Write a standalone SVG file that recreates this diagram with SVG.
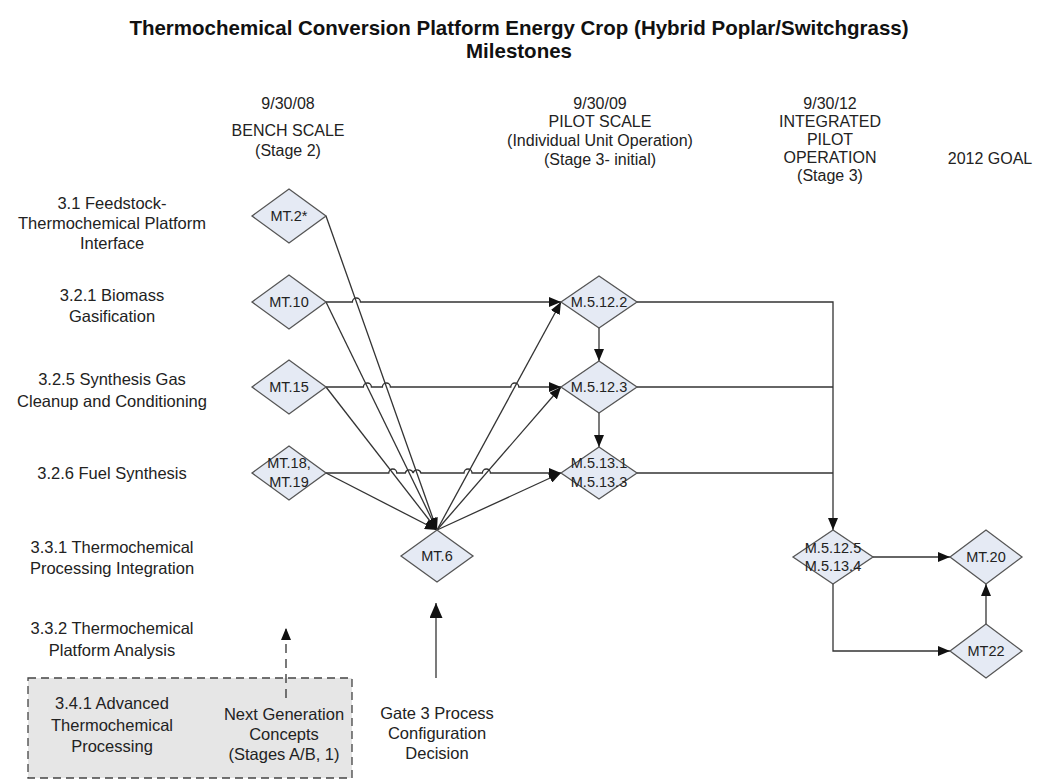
<svg xmlns="http://www.w3.org/2000/svg" width="1039" height="782" viewBox="0 0 1039 782">
<style>
text{font-family:"Liberation Sans",Arial,sans-serif;fill:#222;text-anchor:middle}
.t{font-size:20.5px;font-weight:bold;fill:#111}
.h{font-size:16px}
.l{font-size:16.5px}
.d{font-size:14.5px}
.dm{fill:#E5EAF4;stroke:#555;stroke-width:1.3}
.c{fill:none;stroke:#333;stroke-width:1.3}
</style>
<defs>
<marker id="ah" markerUnits="userSpaceOnUse" markerWidth="12" markerHeight="10" refX="12" refY="5" orient="auto"><path d="M0,0 L12,5 L0,10 z" fill="#111"/></marker>
<marker id="ahb" markerUnits="userSpaceOnUse" markerWidth="15" markerHeight="13" refX="15" refY="6.5" orient="auto"><path d="M0,0 L15,6.5 L0,13 z" fill="#111"/></marker>
</defs>
<rect width="1039" height="782" fill="#fff"/>
<g id="title">
<text class="t" x="519" y="35">Thermochemical Conversion Platform Energy Crop (Hybrid Poplar/Switchgrass)</text>
<text class="t" x="519" y="58">Milestones</text>
</g>
<g id="headers">
<text class="h" x="288" y="109">9/30/08</text>
<text class="h" x="288" y="136">BENCH SCALE</text>
<text class="h" x="288" y="156">(Stage 2)</text>
<text class="h" x="600" y="109">9/30/09</text>
<text class="h" x="600" y="127">PILOT SCALE</text>
<text class="h" x="600" y="146">(Individual Unit Operation)</text>
<text class="h" x="600" y="165">(Stage 3- initial)</text>
<text class="h" x="830" y="109">9/30/12</text>
<text class="h" x="830" y="127">INTEGRATED</text>
<text class="h" x="830" y="145">PILOT</text>
<text class="h" x="830" y="163">OPERATION</text>
<text class="h" x="830" y="181">(Stage 3)</text>
<text class="h" x="990" y="164">2012 GOAL</text>
</g>
<g id="rows">
<text class="l" x="112" y="209">3.1 Feedstock-</text>
<text class="l" x="112" y="229">Thermochemical Platform</text>
<text class="l" x="112" y="249">Interface</text>
<text class="l" x="112" y="301">3.2.1 Biomass</text>
<text class="l" x="112" y="322">Gasification</text>
<text class="l" x="112" y="385">3.2.5 Synthesis Gas</text>
<text class="l" x="112" y="407">Cleanup and Conditioning</text>
<text class="l" x="112" y="479">3.2.6 Fuel Synthesis</text>
<text class="l" x="112" y="553">3.3.1 Thermochemical</text>
<text class="l" x="112" y="574">Processing Integration</text>
<text class="l" x="112" y="634">3.3.2 Thermochemical</text>
<text class="l" x="112" y="656">Platform Analysis</text>
</g>
<g id="advanced">
<rect x="28" y="678" width="324" height="100" fill="#E6E6E6" stroke="#444" stroke-width="1.3" stroke-dasharray="8,5"/>
<text class="l" x="112" y="709">3.4.1 Advanced</text>
<text class="l" x="112" y="731">Thermochemical</text>
<text class="l" x="112" y="752">Processing</text>
<text class="l" x="284" y="720">Next Generation</text>
<text class="l" x="284" y="740">Concepts</text>
<text class="l" x="284" y="760">(Stages A/B, 1)</text>
</g>
<g id="gate">
<text class="l" x="437" y="719">Gate 3 Process</text>
<text class="l" x="437" y="739">Configuration</text>
<text class="l" x="437" y="759">Decision</text>
</g>
<g id="connectors">
<path class="c" d="M326,216 L437,530" marker-end="url(#ah)"/>
<path class="c" d="M326,302 L437,530" marker-end="url(#ah)"/>
<path class="c" d="M326,387 L437,530" marker-end="url(#ah)"/>
<path class="c" d="M326,473 L437,530" marker-end="url(#ah)"/>
<path class="c" d="M437,530 L561,302" marker-end="url(#ah)"/>
<path class="c" d="M437,530 L561,387" marker-end="url(#ah)"/>
<path class="c" d="M437,530 L561,473" marker-end="url(#ah)"/>
<path class="c" d="M326,302 L352.4,302 A4,4 0 0 1 360.4,302 L561,302" marker-end="url(#ah)"/>
<path class="c" d="M326,387 L363.4,387 A4,4 0 0 1 371.4,387 L382.4,387 A4,4 0 0 1 390.4,387 L510.8,387 A4,4 0 0 1 518.8,387 L561,387" marker-end="url(#ah)"/>
<path class="c" d="M326,473 L388.8,473 A4,4 0 0 1 396.8,473 L405.3,473 A4,4 0 0 1 413.1,473 A4,4 0 0 1 420.9,473 L464,473 A4,4 0 0 1 472,473 L482.4,473 A4,4 0 0 1 490.4,473 L561,473" marker-end="url(#ah)"/>
<path class="c" d="M599,328 L599,361" marker-end="url(#ah)"/>
<path class="c" d="M599,413 L599,447" marker-end="url(#ah)"/>
<path class="c" d="M637,302 L833,302 L833,530" marker-end="url(#ah)"/>
<path class="c" d="M637,387 L833,387"/>
<path class="c" d="M637,473 L833,473"/>
<path class="c" d="M873,557 L950,557" marker-end="url(#ah)"/>
<path class="c" d="M833,584 L833,651 L950,651" marker-end="url(#ah)"/>
<path class="c" d="M986,624 L986,584" marker-end="url(#ah)"/>
<path class="c" d="M286,698 L286,628" stroke-dasharray="9,6" stroke-width="1.6" marker-end="url(#ah)"/>
<path class="c" d="M436,678 L436,603" stroke-width="3" stroke="#111" marker-end="url(#ahb)"/>
</g>
<g id="n-mt2"><polygon class="dm" points="252,216 289,189 326,216 289,243"/><text class="d" x="289" y="221">MT.2*</text></g>
<g id="n-mt10"><polygon class="dm" points="252,302 289,275 326,302 289,329"/><text class="d" x="289" y="307">MT.10</text></g>
<g id="n-mt15"><polygon class="dm" points="252,387 289,360 326,387 289,414"/><text class="d" x="289" y="392">MT.15</text></g>
<g id="n-mt18"><polygon class="dm" points="252,473 289,446 326,473 289,500"/><text class="d" x="289" y="468">MT.18,</text><text class="d" x="289" y="487">MT.19</text></g>
<g id="n-mt6"><polygon class="dm" points="401,556 437,530 473,556 437,582"/><text class="d" x="437" y="561">MT.6</text></g>
<g id="n-m5122"><polygon class="dm" points="561,302 599,276 637,302 599,328"/><text class="d" x="599" y="307">M.5.12.2</text></g>
<g id="n-m5123"><polygon class="dm" points="561,387 599,361 637,387 599,413"/><text class="d" x="599" y="392">M.5.12.3</text></g>
<g id="n-m5131"><polygon class="dm" points="561,473 599,447 637,473 599,499"/><text class="d" x="599" y="468">M.5.13.1</text><text class="d" x="599" y="487">M.5.13.3</text></g>
<g id="n-m5125"><polygon class="dm" points="793,557 833,530 873,557 833,584"/><text class="d" x="833" y="553">M.5.12.5</text><text class="d" x="833" y="571">M.5.13.4</text></g>
<g id="n-mt20"><polygon class="dm" points="950,557 986,530 1022,557 986,584"/><text class="d" x="986" y="562">MT.20</text></g>
<g id="n-mt22"><polygon class="dm" points="950,651 986,624 1022,651 986,678"/><text class="d" x="986" y="656">MT22</text></g>
</svg>
